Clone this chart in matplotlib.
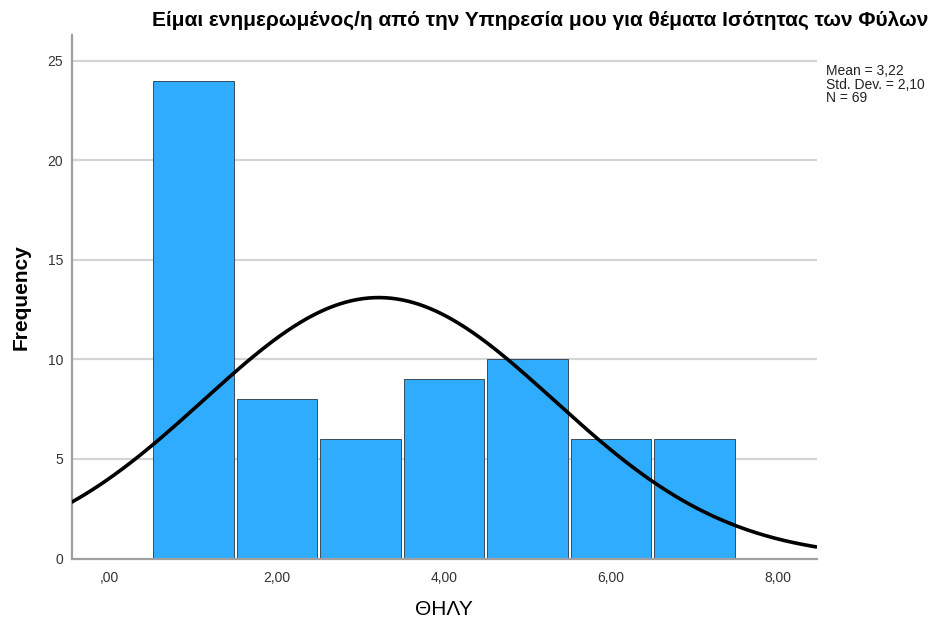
import numpy as np
import matplotlib
matplotlib.use("Agg")
import matplotlib.pyplot as plt
from matplotlib.ticker import FuncFormatter

plt.rcParams['font.family'] = ['Liberation Sans', 'DejaVu Sans']

# Histogram data (SPSS output)
bin_centers = [1, 2, 3, 4, 5, 6, 7]
counts = [24, 8, 6, 9, 10, 6, 6]
mean_val = 3.22
std_val = 2.10
n_val = 69
bin_width = 1.0

title = "Είμαι ενημερωμένος/η από την Υπηρεσία μου για θέματα Ισότητας των Φύλων"
x_label = "ΘΗΛΥ"
y_label = "Frequency"
x_ticks = [0, 2, 4, 6, 8]
y_ticks = [0, 5, 10, 15, 20, 25]

fig = plt.figure(figsize=(9.31, 6.25), dpi=100)
ax = fig.add_axes([0.0768, 0.1064, 0.8008, 0.8376])

# gridlines
for yt in y_ticks[1:]:
    ax.axhline(yt, color='#d4d4d4', linewidth=1.6, zorder=0)

ax.bar(bin_centers, counts, width=0.965, color='#30acff',
       edgecolor='#3a4a5a', linewidth=0.7, zorder=2)

# normal curve scaled to counts
xs = np.linspace(-0.46, 8.47, 400)
ys = n_val * bin_width / (std_val * np.sqrt(2 * np.pi)) * np.exp(-0.5 * ((xs - mean_val) / std_val) ** 2)
ax.plot(xs, ys, color='black', linewidth=2.6, zorder=3, solid_capstyle='butt')

ax.set_xlim(-0.46, 8.47)
ax.set_ylim(0, 26.3)
ax.set_xticks(x_ticks)
ax.set_yticks(y_ticks)


def spss_fmt(v, pos):
    s = f"{v:.2f}".replace('.', ',')
    if s.startswith('0,'):
        s = s[1:]
    return s


ax.xaxis.set_major_formatter(FuncFormatter(spss_fmt))
ax.tick_params(axis='both', length=0, labelsize=10, colors='#333333')
ax.tick_params(axis='x', pad=9)
ax.tick_params(axis='y', pad=6)

for side in ['top', 'right']:
    ax.spines[side].set_visible(False)
for side in ['left', 'bottom']:
    ax.spines[side].set_color('#a0a0a0')
    ax.spines[side].set_linewidth(1.6)

ax.set_ylabel(y_label, fontsize=15, fontweight='bold', labelpad=12)
ax.set_xlabel(x_label, fontsize=15, labelpad=11)
fig.text(0.58, 0.968, title, ha='center', va='center', fontsize=15, fontweight='bold')

stats = f"Mean = {mean_val:.2f}\nStd. Dev. = {std_val:.2f}\nN = {n_val}".replace('.', ',').replace('Std, Dev,', 'Std. Dev.')
fig.text(0.887, 0.897, stats, ha='left', va='top', fontsize=10, color='#222222', linespacing=0.95)

fig.savefig("out.png", dpi=100)
